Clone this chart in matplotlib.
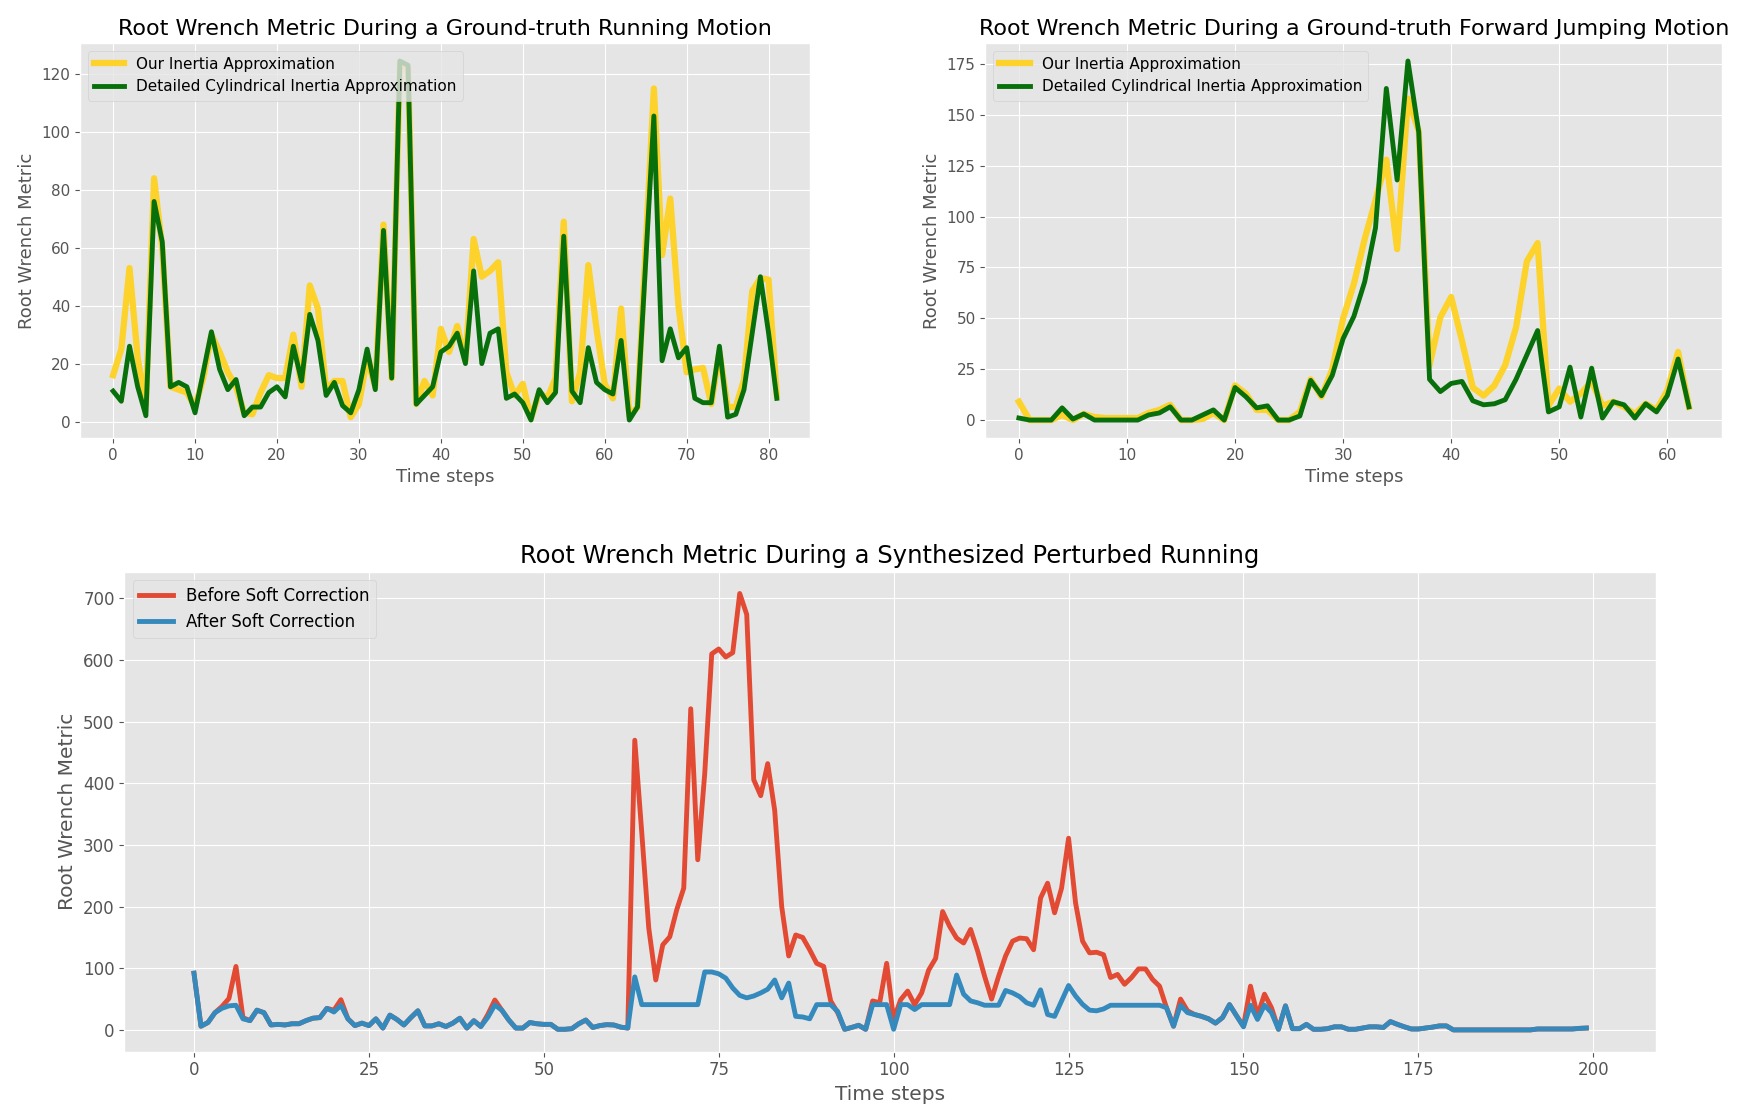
import numpy as np
import matplotlib
matplotlib.use("Agg")
import matplotlib.pyplot as plt

plt.style.use("ggplot")

# --- running motion (top left) ---
run_ours = [16, 25, 53, 22, 6, 84, 60, 12, 11, 10,
            5, 15, 30, 24, 17, 12, 3, 2.5, 10, 16,
            15, 15, 30, 12, 47, 39, 11, 14, 14, 1.5,
            6, 22, 12, 68, 15, 124, 122, 6, 14, 9,
            32, 24, 33, 21, 63, 50, 52, 55, 17, 9,
            13, 1, 10, 8, 15, 69, 7, 17, 54, 32,
            13, 8, 39, 2, 5, 60, 115, 57.5, 77, 40,
            17, 18, 18.5, 6, 24, 5, 5, 14.5, 45, 49.5,
            49, 9]
run_cyl = [10.5, 7, 26, 12, 2, 76, 62, 12, 13.5, 12,
           3, 17, 31, 18, 11, 14.5, 2, 5, 5, 10,
           12, 8.5, 26, 14, 37, 28, 9, 13.5, 5.5, 3,
           11, 25, 11, 66, 15, 124.5, 123, 6, 9, 12,
           24, 26, 30.5, 20, 52, 20, 30.5, 32, 8, 9.5,
           6.5, 0.5, 11, 6.5, 10, 64, 10.5, 6.5, 25.5, 13.5,
           11, 9.5, 28, 0.5, 5, 55, 105.5, 21, 32, 22,
           25.5, 8, 6.5, 6.5, 26, 1.5, 2.5, 11, 30.5, 50,
           30.5, 8]

# --- forward jumping motion (top right) ---
jump_ours = [9, 0, 0, 0, 2.5, 0, 3, 1.5, 1, 1,
             1, 1, 3.5, 5, 7.5, 0, 0, 0.5, 3.5, 0,
             17, 13, 5, 5, 0, 0, 4, 20, 11.5, 25,
             50, 67, 89, 108, 128, 84, 158, 142, 27, 50.5,
             60.5, 39, 16, 12, 17, 27, 45.5, 78, 87, 7,
             15.5, 9, 13, 19, 7, 9, 6.5, 3, 8, 5,
             14.5, 33.5, 6.5]
jump_cyl = [1, 0, 0, 0, 6, 0.5, 3, 0, 0, 0,
            0, 0, 2.5, 3.5, 6.5, 0, 0, 2.5, 5, 0,
            16, 11.5, 6, 7, 0, 0, 2, 19.5, 12, 22,
            40, 51, 68, 94.5, 163, 118, 176.5, 141.5, 20, 14,
            18, 19, 9.5, 7.5, 8, 10, 20, 32, 44, 4,
            6.5, 26, 1.5, 25.5, 1, 9, 7.5, 1, 8, 4,
            12, 30, 6.5]

# --- synthesized perturbed running (bottom) ---
before = [92, 6, 12, 28, 38, 51, 103, 20, 15, 32,
          28, 8, 9, 8, 10, 10, 15, 19, 20, 35,
          32, 49, 18, 7, 11, 7, 18, 3, 24, 17,
          8, 20, 31, 6.5, 6.5, 10, 5.5, 11, 19, 3,
          15, 5.5, 25, 48.5, 32, 16, 3, 3, 12, 10,
          9, 9, 1, 1, 2, 10, 16, 4, 7, 8.5,
          8, 4.5, 3, 470, 320, 165, 81, 138, 151, 195,
          230, 521, 276, 416, 610, 618, 605, 612, 708, 674,
          406, 380, 432, 356, 200, 120, 154, 150, 130, 108,
          103, 47, 28, 1, 4, 7.5, 1, 47, 44, 108,
          17, 49, 63, 41, 60, 97, 116, 192, 168, 149,
          141, 163, 128, 87, 50, 87, 120, 144, 149, 148,
          130, 214, 238, 190, 230, 311, 206, 144, 125, 126,
          122, 85, 90, 74, 85, 99, 99, 82, 71, 36,
          6, 50, 31, 25, 22, 18, 11, 20, 41, 23,
          6, 71, 23, 58, 36, 1, 39, 2, 2, 9,
          1, 1, 2, 5, 5, 1, 1, 3, 5, 5,
          4, 13.5, 9, 5, 1.5, 1.5, 3, 4.5, 6.5, 6.5,
          0, 0, 0, 0, 0, 0, 0, 0, 0, 0,
          0, 0, 1.5, 1.5, 1.5, 1.5, 1.5, 1.5, 2.5, 3]
after = [92, 6, 12, 28, 35, 39, 40, 18, 15, 32,
         28, 8, 9, 8, 10, 10, 15, 19, 20, 35,
         29, 40, 18, 7, 11, 7, 18, 3, 24, 17,
         8, 20, 31, 6.5, 6.5, 10, 5.5, 11, 19, 3,
         15, 5.5, 20.5, 40.5, 32, 16, 3, 3, 12, 10,
         9, 9, 1, 1, 2, 10, 16, 4, 7, 8.5,
         8, 4.5, 3, 86, 41, 41, 41, 41, 41, 41,
         41, 41, 41, 94, 94, 91, 84, 68, 56, 52,
         55, 60, 66, 81, 52, 76, 22, 21, 18, 41,
         41, 41, 30, 1, 4, 7.5, 1, 41, 41, 41,
         1, 41, 41, 33, 41, 41, 41, 41, 41, 89,
         58, 47, 44, 40, 40, 40, 64, 60, 54, 44,
         40, 65, 25, 22, 47, 72, 55, 41.5, 32, 31,
         34, 40, 40, 40, 40, 40, 40, 40, 40, 36,
         6, 40, 28, 25, 22, 18, 11, 20, 41, 23,
         5, 40, 17, 40, 28, 1, 39, 2, 2, 9,
         1, 1, 2, 5, 5, 1, 1, 3, 5, 5,
         4, 13.5, 9, 5, 1.5, 1.5, 3, 4.5, 6.5, 6.5,
         0, 0, 0, 0, 0, 0, 0, 0, 0, 0,
         0, 0, 1.5, 1.5, 1.5, 1.5, 1.5, 1.5, 2.5, 3]

YELLOW = "#fdd22a"
GREEN = "#08700a"

fig = plt.figure(figsize=(17.49, 11.12), dpi=100)
ax1 = fig.add_axes([0.0457, 0.6061, 0.4174, 0.3552])
ax2 = fig.add_axes([0.5634, 0.6061, 0.4214, 0.3552])
ax3 = fig.add_axes([0.0711, 0.0542, 0.8757, 0.4317])


def top_panel(ax, ours, cyl, title):
    ax.plot(np.arange(len(ours)), ours, color=YELLOW, linewidth=4.5,
            label="Our Inertia Approximation")
    ax.plot(np.arange(len(cyl)), cyl, color=GREEN, linewidth=3.5,
            label="Detailed Cylindrical Inertia Approximation")
    ax.set_title(title, fontsize=16)
    ax.set_xlabel("Time steps", fontsize=13)
    ax.set_ylabel("Root Wrench Metric", fontsize=13)
    ax.tick_params(labelsize=11)
    ax.legend(loc="upper left", fontsize=11)


top_panel(ax1, run_ours, run_cyl,
          "Root Wrench Metric During a Ground-truth Running Motion")
top_panel(ax2, jump_ours, jump_cyl,
          "Root Wrench Metric During a Ground-truth Forward Jumping Motion")

t = np.arange(len(before))
ax3.plot(t, before, color="#E24A33", linewidth=3.5, label="Before Soft Correction")
ax3.plot(t, after, color="#348ABD", linewidth=3.5, label="After Soft Correction")
ax3.set_title("Root Wrench Metric During a Synthesized Perturbed Running", fontsize=17.5)
ax3.set_xlabel("Time steps", fontsize=14.5)
ax3.set_ylabel("Root Wrench Metric", fontsize=14.5)
ax3.tick_params(labelsize=12)
ax3.legend(loc="upper left", fontsize=12)

fig.savefig("out.png", dpi=100)
